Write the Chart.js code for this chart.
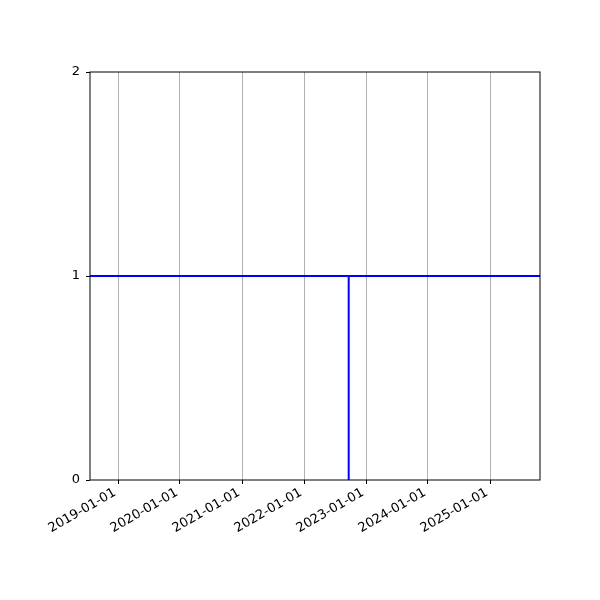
<!DOCTYPE html>
<html>
<head>
<meta charset="utf-8">
<script src="https://cdn.jsdelivr.net/npm/chart.js@4/dist/chart.umd.min.js"></script>
<style>
  html, body { margin: 0; padding: 0; background: #fff; }
</style>
</head>
<body>
<canvas id="chart" width="600" height="600"></canvas>
<script>
// data
const xRange = ['2018-07-20', '2025-10-22'];
const levelDates = ['2018-07-20', '2025-10-22'];
const levelValues = [1, 1];
const dropDates = ['2022-09-21', '2022-09-21'];
const dropValues = [0, 1];
const tickDates = ['2019-01-01', '2020-01-01', '2021-01-01', '2022-01-01', '2023-01-01', '2024-01-01', '2025-01-01'];
const yTicks = [0, 1, 2];

const ms = d => Date.parse(d + 'T00:00:00Z');
const pad2 = n => String(n).padStart(2, '0');
function fmt(v) {
    const d = new Date(v);
    return d.getUTCFullYear() + '-' + pad2(d.getUTCMonth() + 1) + '-' + pad2(d.getUTCDate());
}

const font = { family: 'DejaVu Sans', size: 13 };

// matplotlib-like full box around the plot
const frame = {
    id: 'frame',
    afterDraw(chart) {
        const { ctx, chartArea: a } = chart;
        ctx.save();
        ctx.strokeStyle = '#000';
        ctx.lineWidth = 1;
        ctx.strokeRect(a.left, a.top, a.right - a.left, a.bottom - a.top);
        ctx.restore();
    }
};

new Chart(document.getElementById('chart'), {
    type: 'line',
    data: {
        datasets: [{
            data: levelDates.map((d, i) => ({ x: ms(d), y: levelValues[i] })),
            borderColor: '#0000ff',
            borderWidth: 2,
            pointRadius: 0
        }, {
            data: dropDates.map((d, i) => ({ x: ms(d), y: dropValues[i] })),
            borderColor: '#0000ff',
            borderWidth: 2,
            pointRadius: 0
        }]
    },
    options: {
        responsive: false,
        animation: false,
        devicePixelRatio: 1,
        layout: { padding: { top: 72, right: 60, left: 0, bottom: 0 } },
        plugins: { legend: { display: false }, tooltip: { enabled: false } },
        scales: {
            x: {
                type: 'linear',
                min: ms(xRange[0]),
                max: ms(xRange[1]),
                afterBuildTicks: axis => { axis.ticks = tickDates.map(d => ({ value: ms(d) })); },
                afterFit: axis => { axis.height = 120; },
                ticks: {
                    callback: v => fmt(v),
                    minRotation: 30,
                    maxRotation: 30,
                    color: '#000',
                    font: font,
                    padding: 1,
                    labelOffset: -3
                },
                grid: { color: '#b0b0b0', tickColor: '#000', tickLength: 4, lineWidth: 1 },
                border: { display: false }
            },
            y: {
                min: 0,
                max: 2,
                afterBuildTicks: axis => { axis.ticks = yTicks.map(v => ({ value: v })); },
                afterFit: axis => { axis.width = 90; },
                ticks: { color: '#000', font: font, padding: 6 },
                grid: { drawOnChartArea: false, tickColor: '#000', tickLength: 4 },
                border: { display: false }
            }
        }
    },
    plugins: [frame]
});
</script>
</body>
</html>
